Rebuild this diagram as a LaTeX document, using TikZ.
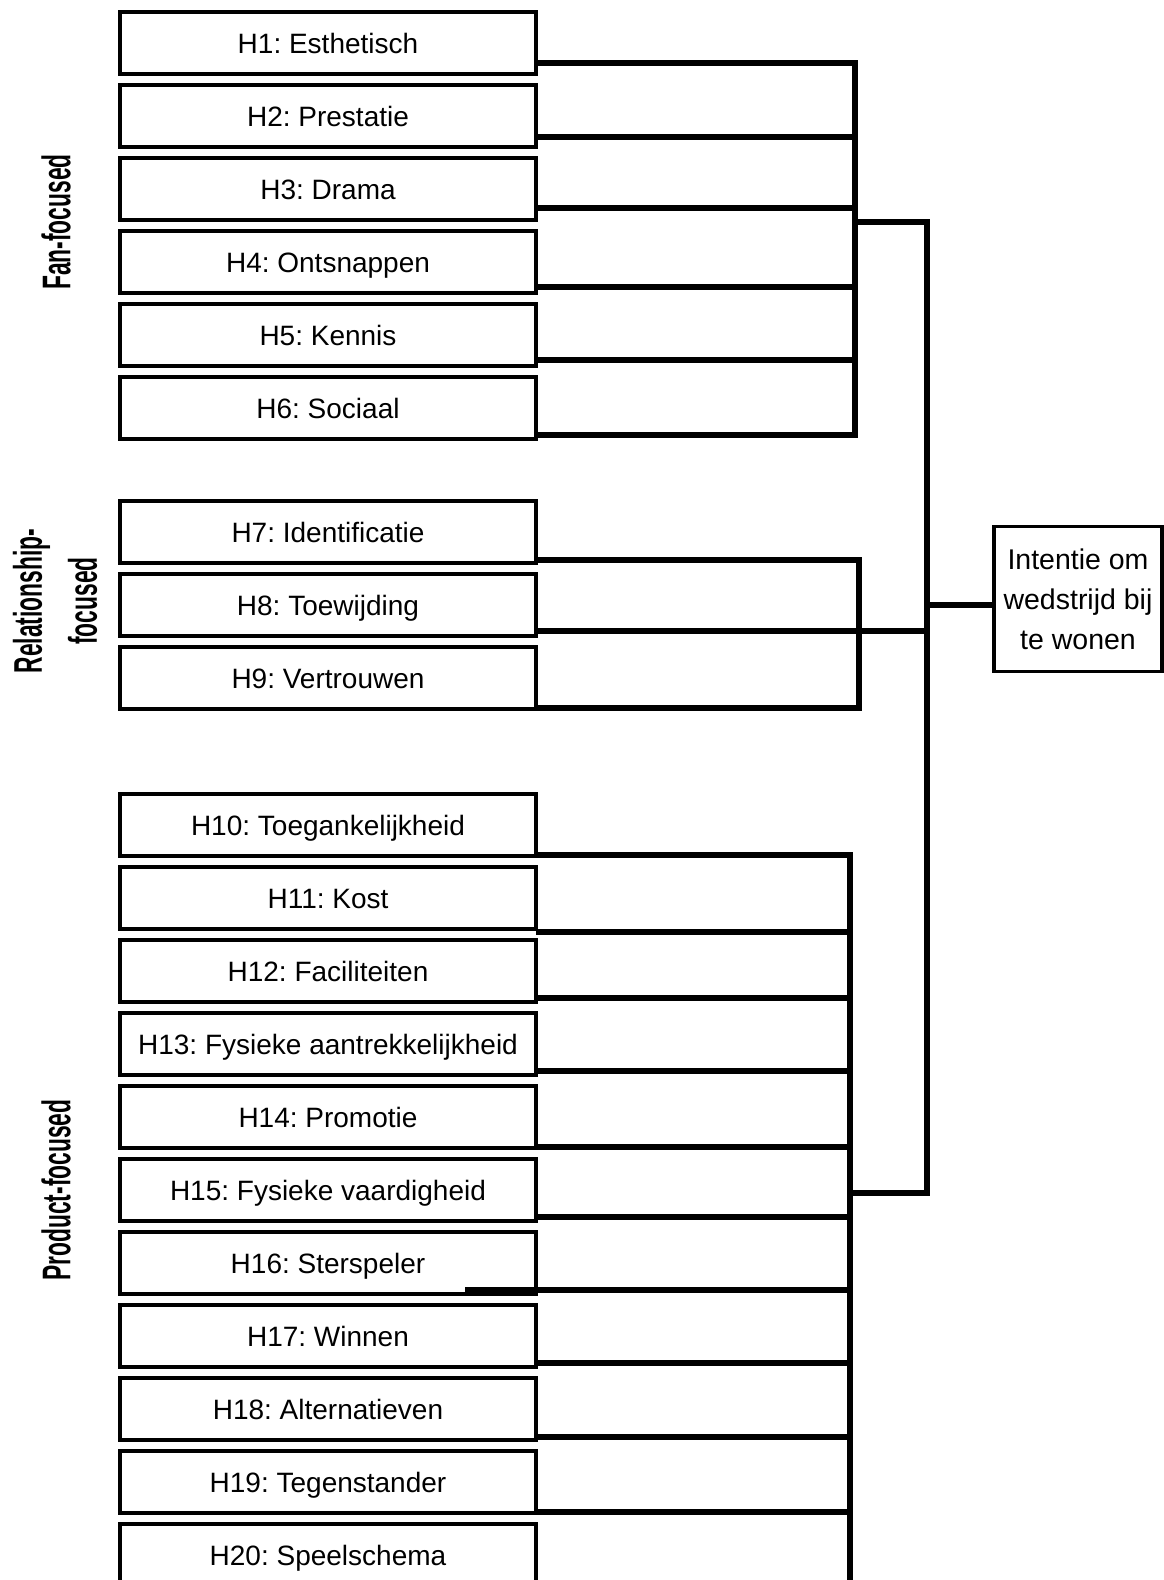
\documentclass[tikz,border=0pt]{standalone}
\usepackage{fontspec}
\setmainfont{Liberation Sans}
\usetikzlibrary{positioning}
\frenchspacing

\tikzset{
  hyp/.style={draw, line width=4pt, minimum width=416pt, minimum height=62pt,
    inner sep=0pt, outer sep=0pt, text height=20pt, text depth=0pt,
    font=\fontsize{28}{34}\selectfont},
  link/.style={line width=5.5pt},
  group/.style={rotate=90, align=center, font=\fontsize{40}{55}\selectfont\bfseries},
}

\begin{document}
\begin{tikzpicture}[x=1pt,y=1pt]

        \useasboundingbox (0,0) rectangle (1164,-1580);

        \begin{scope}[every node/.style={hyp}]
          \node (h1)  at (328,-43)   {H1: Esthetisch};
          \node (h2)  at (328,-116)  {H2: Prestatie};
          \node (h3)  at (328,-189)  {H3: Drama};
          \node (h4)  at (328,-262)  {H4: Ontsnappen};
          \node (h5)  at (328,-335)  {H5: Kennis};
          \node (h6)  at (328,-408)  {H6: Sociaal};
          \node (h7)  at (328,-532)  {H7: Identificatie};
          \node (h8)  at (328,-605)  {H8: Toewijding};
          \node (h9)  at (328,-678)  {H9: Vertrouwen};
          \node (h10) at (328,-825)  {H10: Toegankelijkheid};
          \node (h11) at (328,-898)  {H11: Kost};
          \node (h12) at (328,-971)  {H12: Faciliteiten};
          \node (h13) at (328,-1044) {H13: Fysieke aantrekkelijkheid};
          \node (h14) at (328,-1117) {H14: Promotie};
          \node (h15) at (328,-1190) {H15: Fysieke vaardigheid};
          \node (h16) at (328,-1263) {H16: Sterspeler};
          \node (h17) at (328,-1336) {H17: Winnen};
          \node (h18) at (328,-1409) {H18: Alternatieven};
          \node (h19) at (328,-1482) {H19: Tegenstander};
          \node (h20) at (328,-1555) {H20: Speelschema};
        \end{scope}

        \node[draw, line width=3.5pt, minimum width=168pt, minimum height=145pt,
          inner sep=0pt, outer sep=0pt, align=center,
          font=\fontsize{28.5}{40}\selectfont] (intent) at (1078,-599)
          {Intentie om\\wedstrijd bij\\te wonen};

        \node[group] (fan)  at (56,-222)  {\scalebox{0.57}[1]{Fan-focused}};
        \node[group] (rel)  at (55,-601)  {\scalebox{0.57}[1]{Relationship-}\\\scalebox{0.57}[1]{focused}};
        \node[group] (prod) at (56,-1190) {\scalebox{0.57}[1]{Product-focused}};

        \coordinate (fanbot)  at (855,-435);
        \coordinate (relbot)  at (859,-708);
        \coordinate (prodbot) at (850,-1610);
        \coordinate (fanjoin) at (855,-222);
        \coordinate (maintop) at (927,-222);
        \coordinate (mainbot) at (927,-1193);
        \coordinate (prodjoin) at (850,-1193);

        \begin{scope}[every path/.style={link}]
          % fan-focused
          \draw ([yshift=-20pt]h1.east) -| (fanbot) -- ([yshift=-27pt]h6.east);
          \draw ([yshift=-21pt]h2.east) -- ([yshift=-21pt]h2.east -| fanbot);
          \draw ([yshift=-19pt]h3.east) -- ([yshift=-19pt]h3.east -| fanbot);
          \draw ([yshift=-25pt]h4.east) -- ([yshift=-25pt]h4.east -| fanbot);
          \draw ([yshift=-25pt]h5.east) -- ([yshift=-25pt]h5.east -| fanbot);

          % relationship-focused
          \draw ([yshift=-28pt]h7.east) -| (relbot) -- ([yshift=-30pt]h9.east);
          \draw ([yshift=-26pt]h8.east) -- ([yshift=-26pt]h8.east -| maintop);

          % product-focused
          \draw ([yshift=-30pt]h10.east) -| (prodbot);
          \draw ([yshift=-34pt]h11.east) -- ([yshift=-34pt]h11.east -| prodbot);
          \draw ([yshift=-27pt]h12.east) -- ([yshift=-27pt]h12.east -| prodbot);
          \draw ([yshift=-27pt]h13.east) -- ([yshift=-27pt]h13.east -| prodbot);
          \draw ([yshift=-30pt]h14.east) -- ([yshift=-30pt]h14.east -| prodbot);
          \draw ([yshift=-27pt]h15.east) -- ([yshift=-27pt]h15.east -| prodbot);
          \draw ([xshift=-71pt,yshift=-27pt]h16.east) -- ([yshift=-27pt]h16.east -| prodbot);
          \draw ([yshift=-27pt]h17.east) -- ([yshift=-27pt]h17.east -| prodbot);
          \draw ([yshift=-28pt]h18.east) -- ([yshift=-28pt]h18.east -| prodbot);
          \draw ([yshift=-30pt]h19.east) -- ([yshift=-30pt]h19.east -| prodbot);

          % main bus
          \draw (fanjoin) -- (maintop) -- (mainbot) -- (prodjoin);
          \draw ([yshift=-6pt]intent.west -| maintop) -- ([yshift=-6pt]intent.west);
        \end{scope}

      \end{tikzpicture}
\end{document}
